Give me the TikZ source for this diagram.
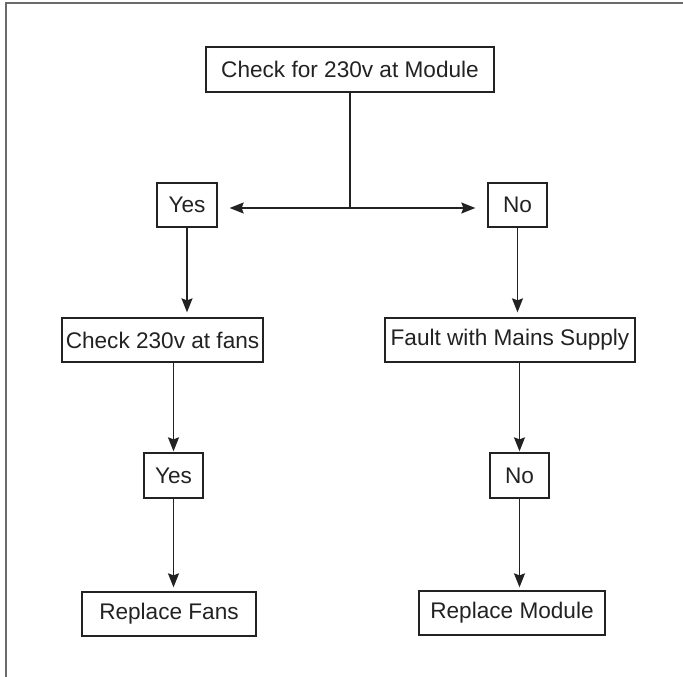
\documentclass[tikz,border=0pt]{standalone}
\usepackage{fontspec}
\setmainfont{Liberation Sans}
\usetikzlibrary{arrows.meta}
\definecolor{ink}{HTML}{222222}
\definecolor{frame}{HTML}{6A6A6A}
\tikzset{
  box/.style={draw=ink, line width=1.3pt, text=ink, inner sep=0pt, minimum height=44pt,
    font=\fontsize{22.6pt}{26pt}\selectfont},
  arr/.style={draw=ink, line width=1.3pt, -{Stealth[length=14pt,width=11pt,inset=2pt]}},
  ln/.style={draw=ink, line width=1.3pt},
}
\begin{document}
\begin{tikzpicture}[x=1pt,y=-1pt]
\useasboundingbox (0,0) rectangle (683,677);
\draw[frame, line width=1.5pt] (6,677) -- (6,3) -- (683,3);
\node[box, minimum width=288pt, minimum height=45pt] (top) at (350,69.5) {Check for 230v at Module\hspace{8pt}};
\node[box, minimum width=60pt] (yes1) at (187,205) {Yes};
\node[box, minimum width=59pt] (no1) at (517.5,205) {No};
\node[box, minimum width=201pt] (fans) at (162.5,340) {Check 230v at fans};
\node[box, minimum width=250pt] (fault) at (510,340) {Fault with Mains Supply};
\node[box, minimum width=59pt, minimum height=45pt] (yes2) at (173.5,475.5) {Yes};
\node[box, minimum width=59pt, minimum height=45pt] (no2) at (519.5,475.5) {No};
\node[box, minimum width=174pt] (rfans) at (169,614) {Replace Fans};
\node[box, minimum width=186pt] (rmod) at (512,613) {Replace Module};
\coordinate (junc) at (350,208);
\draw[ln] (top.south) -- (junc);
\draw[arr, shorten >=12pt] (junc) -- (junc -| yes1.east);
\draw[arr, shorten >=12pt] (junc) -- (junc -| no1.west);
\draw[arr, shorten >=5pt] (yes1.south) -- (yes1.south |- fans.north);
\draw[arr, shorten >=5pt] (no1.south) -- (no1.south |- fault.north);
\draw[arr, shorten >=1pt] (yes2.north |- fans.south) -- (yes2.north);
\draw[arr, shorten >=1pt] (no2.north |- fault.south) -- (no2.north);
\draw[arr, shorten >=4pt] (yes2.south) -- (yes2.south |- rfans.north);
\draw[arr, shorten >=3pt] (no2.south) -- (no2.south |- rmod.north);
\end{tikzpicture}
\end{document}
